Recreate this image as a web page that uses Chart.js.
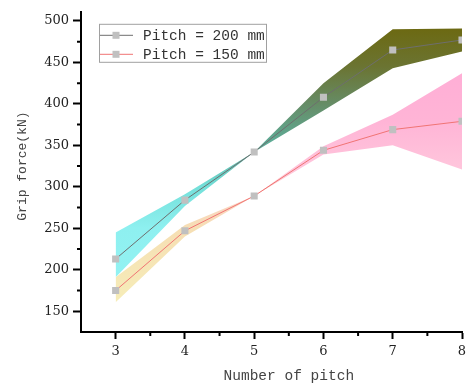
<!DOCTYPE html>
<html>
<head>
<meta charset="utf-8">
<script src="https://cdn.jsdelivr.net/npm/chart.js@4/dist/chart.umd.min.js"></script>
<style>
  html, body { margin: 0; padding: 0; background: #fff; }
  #wrap { width: 467px; height: 385px; }
</style>
</head>
<body>
<div id="wrap"><canvas id="grip-chart" width="467" height="385"></canvas></div>
<script>
// pitch count on x, grip force (kN) on y
const pitchCounts = [3, 4, 5, 6, 7, 8];
const force200 = [213, 284, 342, 408, 465, 477];
const force150 = [175, 247, 289, 344, 369, 379];

// scatter envelope around each series
const band200Upper = [245, 291, 342, 425, 490, 491];
const band200Lower = [191, 277, 342, 392, 443, 463];
const band150Upper = [191, 254, 289, 349, 387, 437];
const band150Lower = [161, 240, 289, 339, 350, 321];

const seriesLabels = ['Pitch = 200 mm', 'Pitch = 150 mm'];
const xTicks = [3, 4, 5, 6, 7, 8];
const yTicks = [150, 200, 250, 300, 350, 400, 450, 500];

const FONT = '"DejaVu Serif", "Liberation Serif", serif';
const MONO = '"Liberation Mono", "DejaVu Sans Mono", monospace';

function points(ys) {
    return pitchCounts.map((x, i) => ({ x: x, y: ys[i] }));
}

// vertical gradient keyed to force values, so it follows the y scale
function valueGradient(stops) {
    return function (ctx) {
        const chart = ctx.chart;
        if (!chart.chartArea) return 'rgba(0,0,0,0)';
        const y = chart.scales.y;
        const top = y.getPixelForValue(stops[0][0]);
        const bottom = y.getPixelForValue(stops[stops.length - 1][0]);
        const g = chart.ctx.createLinearGradient(0, top, 0, bottom);
        stops.forEach(function (s) {
            const off = (y.getPixelForValue(s[0]) - top) / (bottom - top);
            g.addColorStop(Math.min(1, Math.max(0, off)), s[1]);
        });
        return g;
    };
}

const grad200 = valueGradient([
    [491, '#6c6912'], [445, '#6b7432'], [400, '#668c66'],
    [342, '#5cb3a2'], [300, '#74e0da'], [250, '#8ef0f0'], [190, '#93f2f2']
]);
const grad150 = valueGradient([
    [440, '#ffaed6'], [380, '#ffb4d6'], [320, '#ffc6dc'],
    [290, '#fbd2c6'], [250, '#f6dfb4'], [160, '#f6edb8']
]);

const lineStyle = {
    pointStyle: 'rect',
    pointRadius: 5,
    pointBorderWidth: 0,
    pointBackgroundColor: '#c0c0c0',
    borderWidth: 1,
    fill: false,
    order: 0
};

const hiddenEdge = { borderWidth: 0, pointRadius: 0, order: 1 };

// minor ticks, axis titles and the framed legend
const decorations = {
    id: 'decorations',
    afterDraw(chart) {
        const ctx = chart.ctx;
        const xs = chart.scales.x, ys = chart.scales.y;
        const area = chart.chartArea;
        ctx.save();
        ctx.strokeStyle = '#000';
        ctx.lineWidth = 2;
        ctx.beginPath();
        for (let i = 0; i < xTicks.length - 1; i++) {
            const px = xs.getPixelForValue((xTicks[i] + xTicks[i + 1]) / 2);
            ctx.moveTo(px, area.bottom);
            ctx.lineTo(px, area.bottom + 4);
        }
        for (let i = 0; i < yTicks.length - 1; i++) {
            const py = ys.getPixelForValue((yTicks[i] + yTicks[i + 1]) / 2);
            ctx.moveTo(area.left, py);
            ctx.lineTo(area.left - 4, py);
        }
        ctx.stroke();

        // titles centred on the labelled tick range
        ctx.fillStyle = '#444';
        ctx.textAlign = 'center';
        ctx.textBaseline = 'middle';
        ctx.font = '14.5px ' + MONO;
        const xMid = (xs.getPixelForValue(xTicks[0]) + xs.getPixelForValue(xTicks[xTicks.length - 1])) / 2;
        ctx.fillText('Number of pitch', xMid, 376);
        const yMid = (ys.getPixelForValue(yTicks[0]) + ys.getPixelForValue(yTicks[yTicks.length - 1])) / 2;
        ctx.save();
        ctx.translate(23, yMid);
        ctx.rotate(-Math.PI / 2);
        ctx.font = '13px ' + MONO;
        ctx.fillText('Grip force(kN)', 0, 0);
        ctx.restore();

        // legend
        const bx = area.left + 18, by = area.top + 12;
        ctx.strokeStyle = '#a0a0a0';
        ctx.lineWidth = 1;
        ctx.strokeRect(bx + 0.5, by + 0.5, 167, 38);
        const lineColors = [chart.data.datasets[0].borderColor, chart.data.datasets[1].borderColor];
        seriesLabels.forEach(function (label, i) {
            const cy = by + 11 + i * 19;
            ctx.strokeStyle = lineColors[i];
            ctx.beginPath();
            ctx.moveTo(bx + 1, cy + 0.5);
            ctx.lineTo(bx + 34, cy + 0.5);
            ctx.stroke();
            ctx.fillStyle = '#c0c0c0';
            ctx.fillRect(bx + 17 - 3.5, cy - 3, 7, 7);
            ctx.fillStyle = '#333';
            ctx.textAlign = 'left';
            ctx.font = '14.5px ' + MONO;
            ctx.fillText(label, bx + 44, cy + 1);
        });
        ctx.restore();
    }
};

new Chart(document.getElementById('grip-chart'), {
    type: 'line',
    data: {
        datasets: [
            Object.assign({ label: seriesLabels[0], data: points(force200), borderColor: '#6e6e6e' }, lineStyle),
            Object.assign({ label: seriesLabels[1], data: points(force150), borderColor: '#f07474' }, lineStyle),
            Object.assign({ label: 'band200Lower', data: points(band200Lower), fill: false }, hiddenEdge),
            Object.assign({ label: 'band200Upper', data: points(band200Upper), fill: 2, backgroundColor: grad200 }, hiddenEdge),
            Object.assign({ label: 'band150Lower', data: points(band150Lower), fill: false }, hiddenEdge),
            Object.assign({ label: 'band150Upper', data: points(band150Upper), fill: 4, backgroundColor: grad150 }, hiddenEdge)
        ]
    },
    options: {
        responsive: false,
        animation: false,
        layout: { padding: { top: 10, right: 1, left: 0, bottom: 0 } },
        plugins: {
            legend: { display: false },
            tooltip: { enabled: false },
            filler: { drawTime: 'beforeDatasetsDraw' }
        },
        scales: {
            x: {
                type: 'linear',
                min: 2.5,
                max: 8,
                afterBuildTicks(scale) { scale.ticks = xTicks.map(v => ({ value: v })); },
                afterFit(scale) {
                    scale.height = 53;
                    // let the last label hang past the plot edge
                    scale.paddingLeft = 0;
                    scale.paddingRight = 0;
                },
                grid: { drawOnChartArea: false, drawTicks: true, tickLength: 7, tickWidth: 2, tickColor: '#000' },
                border: { display: true, color: '#000', width: 2 },
                ticks: { color: '#222', padding: 5, maxRotation: 0, font: { family: FONT, size: 13 } }
            },
            y: {
                type: 'linear',
                min: 125,
                max: 511,
                afterBuildTicks(scale) { scale.ticks = yTicks.map(v => ({ value: v })); },
                afterFit(scale) { scale.width = 81; },
                grid: { drawOnChartArea: false, drawTicks: true, tickLength: 8, tickWidth: 2, tickColor: '#000' },
                border: { display: true, color: '#000', width: 2 },
                ticks: { color: '#222', padding: 4, font: { family: FONT, size: 13 } }
            }
        }
    },
    plugins: [decorations]
});
</script>
</body>
</html>
